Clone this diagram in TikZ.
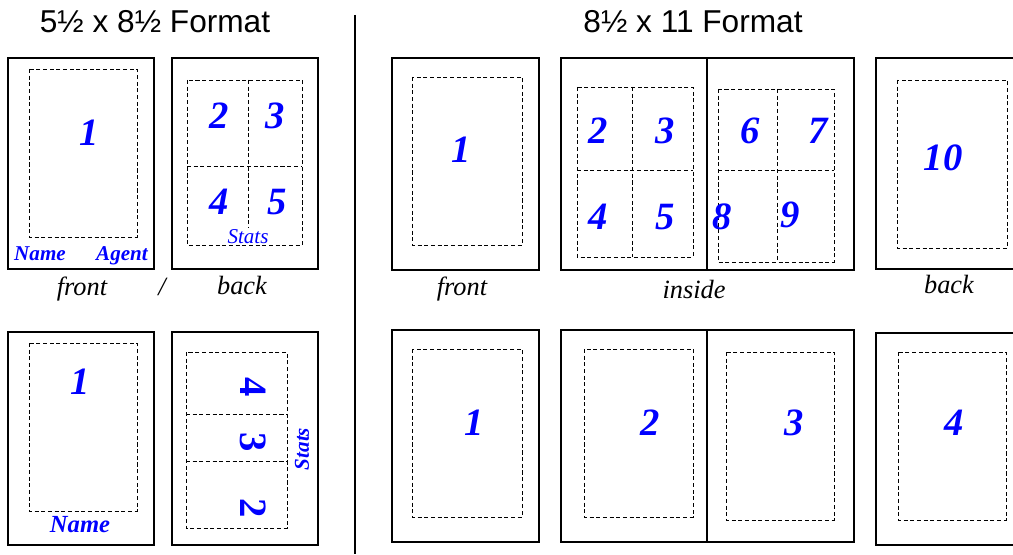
\documentclass[tikz,border=0pt]{standalone}
\usepackage{fontspec}
\setmainfont{Liberation Serif}
\newfontfamily\headfont{Liberation Sans}

\tikzset{
  sheet/.style={draw, line width=1.2pt},
  margin/.style={draw, line width=0.5pt, dash pattern=on 2.3pt off 1.5pt},
  panel/.style={text=blue, font=\bfseries\itshape\fontsize{22}{22}\selectfont, inner sep=0pt},
  tag/.style={text=blue, font=\bfseries\itshape\fontsize{12}{12}\selectfont, inner sep=0pt},
  caption/.style={font=\itshape\fontsize{15}{15}\selectfont, inner sep=0pt, anchor=base},
  heading/.style={font=\headfont\fontsize{18}{18}\selectfont, inner sep=0pt}
}

\begin{document}
\begin{tikzpicture}[x=0.02cm, y=-0.02cm]
\useasboundingbox (0,0) rectangle (1013,554);

% headings and divider
\node[heading] (smallfmt) at (155,22) {5½ x 8½ Format};
\node[heading] (largefmt) at (693,22) {8½ x 11 Format};
\draw[line width=0.6pt] (355,15) -- (355,554);

% 5 1/2 x 8 1/2, first layout
\draw[sheet] (8,58) rectangle (154,269);
\draw[margin] (29,69) rectangle (137,237);
\node[panel] (sa1) at (89,133) {1};
\node[tag, anchor=base] (saname) at (40,260) {Name};
\node[tag, anchor=base] (saagent) at (122,260) {Agent};

\draw[sheet] (172,58) rectangle (318,269);
\draw[margin] (187,80) rectangle (302,245);
\draw[margin] (248,80) -- (248,228) (187,166) -- (302,166);
\foreach \n/\x/\y in {2/219/116, 3/275/116, 4/219/202, 5/277/202}
  \node[panel] (sb\n) at (\x,\y) {\n};
\node[text=blue, font=\itshape\fontsize{12}{12}\selectfont, inner sep=0pt, anchor=base] (sbstats) at (248,243) {Stats};

\node[caption] (safront) at (82,295) {front};
\node[caption] (saslash) at (162,295) {/};
\node[caption] (saback) at (242,294) {back};

% 5 1/2 x 8 1/2, second layout
\draw[sheet] (8,332) rectangle (154,545);
\draw[margin] (29,343) rectangle (137,511);
\node[panel] (sc1) at (80,382) {1};
\node[tag, font=\bfseries\itshape\fontsize{14}{14}\selectfont, anchor=base] (scname) at (80,532) {Name};

\draw[sheet] (172,332) rectangle (318,545);
\draw[margin] (186,352) rectangle (287,528);
\draw[margin] (186,414) -- (287,414) (186,461) -- (287,461);
\foreach \n/\y in {4/387, 3/442, 2/508}
  \node[panel, font=\bfseries\fontsize{22}{22}\selectfont, rotate=-90] (sd\n) at (253,\y) {\n};
\node[tag, rotate=90] (sdstats) at (302,449) {Stats};

% 8 1/2 x 11, first layout
\draw[sheet] (392,58) rectangle (539,270);
\draw[margin] (412,77) rectangle (522,245);
\node[panel] (la1) at (461,150) {1};

\draw[sheet] (561,58) rectangle (854,270);
\draw[sheet] (707,58) -- (707,270);
\draw[margin] (577,87) rectangle (693,257);
\draw[margin] (632,87) -- (632,257) (577,170) -- (693,170);
\draw[margin] (718,89) rectangle (834,262);
\draw[margin] (777,89) -- (777,262) (718,170) -- (834,170);
\foreach \n/\x/\y in {2/598/131, 3/665/131, 4/598/217, 5/665/217,
                      6/750/131, 7/818/131, 8/722/217, 9/790/215}
  \node[panel] (lb\n) at (\x,\y) {\n};

\draw[sheet] (1013,58) -- (876,58) -- (876,269) -- (1013,269);
\draw[margin] (897,80) rectangle (1007,248);
\node[panel] (lc10) at (943,158) {10};

\node[caption] (lafront) at (462,295) {front};
\node[caption] (lbinside) at (694,298) {inside};
\node[caption] (lcback) at (949,293) {back};

% 8 1/2 x 11, second layout
\draw[sheet] (392,330) rectangle (539,542);
\draw[margin] (412,349) rectangle (522,517);
\node[panel] (ld1) at (474,423) {1};

\draw[sheet] (561,330) rectangle (854,542);
\draw[sheet] (707,330) -- (707,542);
\draw[margin] (584,349) rectangle (693,517);
\node[panel] (le2) at (650,423) {2};
\draw[margin] (726,352) rectangle (834,520);
\node[panel] (le3) at (794,423) {3};

\draw[sheet] (1013,333) -- (876,333) -- (876,545) -- (1013,545);
\draw[margin] (898,352) rectangle (1006,520);
\node[panel] (lf4) at (954,423) {4};
\end{tikzpicture}
\end{document}
